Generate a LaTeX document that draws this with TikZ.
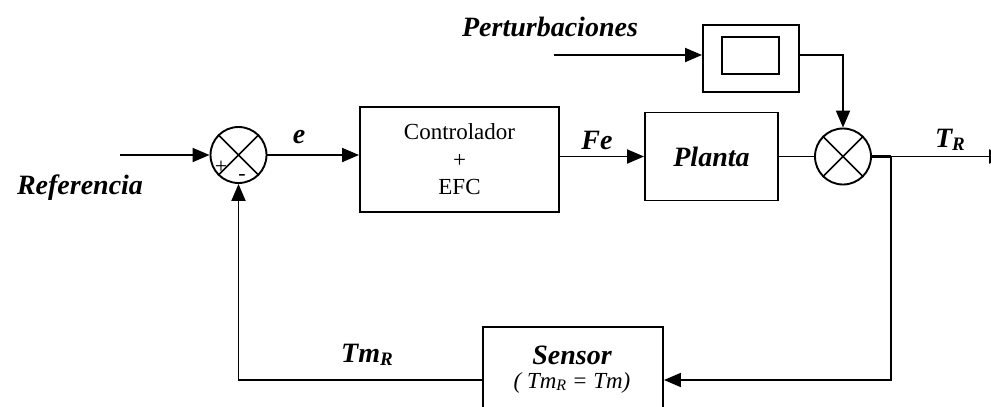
\documentclass[tikz,border=0pt]{standalone}
\usepackage{fontspec}
\setmainfont{Liberation Serif}
\usetikzlibrary{arrows.meta}
\newcommand{\lblfont}{\fontsize{28}{32}\selectfont\bfseries\itshape}
\newcommand{\lowR}[1][19]{\raisebox{-0.1em}{\fontsize{#1}{#1}\selectfont R}}
\begin{document}
\begin{tikzpicture}[x=1pt,y=-1pt,line width=1.9pt,
  >={Triangle[length=17pt,width=14pt]},
  sumnode/.style={circle,draw,minimum size=56pt,inner sep=0pt},
  blockbox/.style={rectangle,draw,inner sep=0pt},
  lbl/.style={inner sep=0pt,font=\lblfont},
  sign/.style={inner sep=0pt,font=\fontsize{22}{22}\selectfont}]
\useasboundingbox (0,0) rectangle (991,407);
% nodes
\node[sumnode] (s1) at (238.5,155) {};
\node[sumnode] (s2) at (843,156.5) {};
\node[blockbox,minimum width=199pt,minimum height=105pt,align=center,
  font=\fontsize{23}{27.5}\selectfont] (ctrl) at (459.5,159.5) {Controlador\\+\\EFC};
\node[blockbox,minimum width=133pt,minimum height=88pt] (planta) at (711.5,156.5)
  {\lblfont Planta};
\node[blockbox,minimum width=96pt,minimum height=67pt] (dist) at (751,58.5) {};
\node[blockbox,minimum width=57pt,minimum height=37pt] (distin) at (750.5,55.5) {};
\node[blockbox,minimum width=180pt,minimum height=104pt] (sensor) at (573,379) {};
% crosses in summing junctions
\draw[line width=1.6pt] (s1.45) -- (s1.225) (s1.135) -- (s1.315);
\draw[line width=1.6pt] (s2.45) -- (s2.225) (s2.135) -- (s2.315);
% coordinates
\coordinate (refin) at (120,155);
\coordinate (pertin) at (554,55);
\coordinate (out) at (1006,156.5);
\coordinate (j) at (891,156.5);
\coordinate (jb) at (891,380);
% connectors
\draw[->] (refin) -- (s1.west);
\draw[->] (s1.east) -- (ctrl.west |- s1.east);
\draw[->] (ctrl.east |- planta.west) -- (planta.west);
\draw (planta.east) -- (s2.west);
\draw[->] (pertin) -- (pertin -| dist.west);
\draw[->] (pertin -| dist.east) -- (s2 |- pertin) -- (s2.north);
\draw[line width=2.8pt] (s2.east) -- (j);
\draw[->] (j) -- (out);
\draw[->] (j) -- (jb) -- (jb -| sensor.east);
\draw[->] (jb -| sensor.west) -| (s1.south);
% labels
\node[lbl] (lref) at (80,188) {Referencia};
\node[lbl] (lpert) at (550,27) {Perturbaciones};
\node[lbl] (le) at (299,137) {e};
\node[lbl] (lfe) at (597,140) {Fe};
\node[lbl] (ltr) at (950,140) {T\lowR};
\node[lbl] (ltmr) at (367,355) {Tm\lowR};
\node[lbl] (lsens) at (572,355) {Sensor};
\node[inner sep=0pt,font=\fontsize{23}{23}\selectfont\itshape] (lsens2) at (572,383)
  {( Tm\lowR[16] = Tm)};
\node[sign] (plus) at (221,167) {+};
\node[sign] (minus) at (242,177) {-};
\end{tikzpicture}
\end{document}
